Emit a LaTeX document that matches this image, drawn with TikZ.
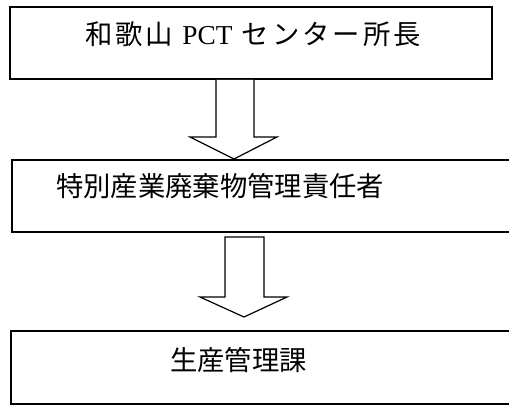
\documentclass[tikz,border=0pt]{standalone}
\usepackage{fontspec}
\setmainfont{Liberation Serif}
\newfontfamily\jp{Noto Sans CJK JP}
\newfontfamily\jpwide[LetterSpace=11]{Noto Sans CJK JP}
\usepackage{tikz}
\usetikzlibrary{calc}

\begin{document}
\begin{tikzpicture}[x=0.75pt,y=-0.75pt,
    box/.style={draw,line width=1.5pt,inner sep=0pt},
    hollow/.style={draw,line width=0.9pt,fill=white,line join=miter},
    caption/.style={inner sep=0pt,font=\fontsize{20.5pt}{24pt}\selectfont\jp}]
  \useasboundingbox (0,0) rectangle (509,406);
  %boxes
  \node[box,minimum width=361.5pt,minimum height=54pt] (head) at (251,43) {};
  \node[box,minimum width=377.25pt,minimum height=54pt] (manager) at (263.5,196) {};
  \node[box,minimum width=378pt,minimum height=54.75pt] (section) at (263,367.5) {};
  %symbols
  \node[caption,anchor=west] (headtext) at (85,34)
        {\jpwide 和歌山 {\rmfamily PCT} センター所長};
  \node[caption,anchor=west] (managertext) at (56,186)
        {特別産業廃棄物管理責任者};
  \node[caption] (sectiontext) at (238.5,360) {生産管理課};
  %block arrows
  \coordinate (s1) at (head.south -| 235,0);
  \coordinate (t1) at (manager.north -| 234,0);
  \coordinate (s2) at (244.5,237);
  \coordinate (t2) at (244,317);
  \draw[hollow] ($(s1)+(-19,0)$) -- ($(s1)+(-19,57)$) -- ($(s1)+(-45,57)$)
        -- (t1) -- ($(s1)+(42,57)$) -- ($(s1)+(19,57)$) -- ($(s1)+(19,0)$);
  \draw[hollow] ($(s2)+(-19.5,0)$) -- ($(s2)+(-19.5,60)$) -- ($(s2)+(-44.5,60)$)
        -- (t2) -- ($(s2)+(42.5,60)$) -- ($(s2)+(19.5,60)$) -- ($(s2)+(19.5,0)$)
        -- cycle;
\end{tikzpicture}
\end{document}
